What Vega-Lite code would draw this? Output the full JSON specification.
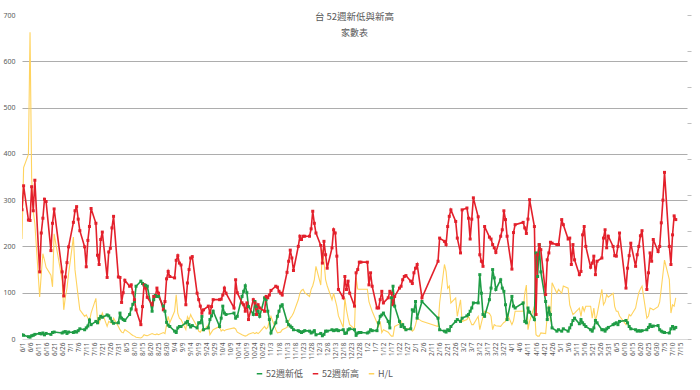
{
"$schema": "https://vega.github.io/schema/vega-lite/v6.json",
"width": 665, "height": 324,
"autosize": "none",
"padding": {"left": 22, "top": 15, "right": 13, "bottom": 51},
"background": "white",
"config": {"view": {"stroke": null}, "font": "Noto Sans CJK TC"},
"title": {"text": "台 52週新低與新高", "subtitle": "家數表", "anchor": "middle", "offset": -27, "fontSize": 9.5, "subtitleFontSize": 9, "font": "Noto Sans CJK TC", "subtitleFont": "Noto Sans CJK TC", "color": "#595959", "subtitleColor": "#595959", "fontWeight": "normal", "subtitlePadding": 8},
"data": {"values": [
{"d":"2023-06-01","lo":9,"hi":279,"hl":27.8},{"d":"2023-06-02","lo":8,"hi":331,"hl":47.6},{"d":"2023-06-05","lo":5,"hi":257,"hl":51.3},{"d":"2023-06-06","lo":4,"hi":256,"hl":85.2},{"d":"2023-06-07","lo":7,"hi":329,"hl":44.9},{"d":"2023-06-08","lo":8,"hi":277,"hl":35.6},{"d":"2023-06-09","lo":10,"hi":343,"hl":32.1},{"d":"2023-06-12","lo":12,"hi":145,"hl":11.7},{"d":"2023-06-13","lo":11,"hi":229,"hl":18.0},{"d":"2023-06-14","lo":13,"hi":261,"hl":23.7},{"d":"2023-06-15","lo":9,"hi":302,"hl":21.9},{"d":"2023-06-16","lo":12,"hi":297,"hl":19.9},{"d":"2023-06-19","lo":10,"hi":191,"hl":17.7},{"d":"2023-06-20","lo":14,"hi":250,"hl":14.5},{"d":"2023-06-21","lo":15,"hi":281,"hl":29.2},{"d":"2023-06-26","lo":13,"hi":145,"hl":16.3},{"d":"2023-06-27","lo":15,"hi":93,"hl":8.1},{"d":"2023-06-28","lo":16,"hi":134,"hl":11.7},{"d":"2023-06-29","lo":12,"hi":165,"hl":14.1},{"d":"2023-06-30","lo":15,"hi":199,"hl":18.1},
{"d":"2023-07-03","lo":14,"hi":252,"hl":28.3},{"d":"2023-07-04","lo":16,"hi":277,"hl":19.2},{"d":"2023-07-05","lo":15,"hi":286,"hl":15.4},{"d":"2023-07-06","lo":18,"hi":259,"hl":11.7},{"d":"2023-07-07","lo":22,"hi":234,"hl":8.1},{"d":"2023-07-10","lo":20,"hi":199,"hl":6.3},{"d":"2023-07-11","lo":24,"hi":156,"hl":6.7},{"d":"2023-07-12","lo":28,"hi":213,"hl":5.8},{"d":"2023-07-13","lo":41,"hi":243,"hl":4.9},{"d":"2023-07-14","lo":31,"hi":282,"hl":7.2},{"d":"2023-07-17","lo":38,"hi":250,"hl":11.3},{"d":"2023-07-18","lo":35,"hi":181,"hl":5.3},{"d":"2023-07-19","lo":44,"hi":161,"hl":4.4},{"d":"2023-07-20","lo":49,"hi":215,"hl":5.8},{"d":"2023-07-21","lo":47,"hi":231,"hl":7.2},{"d":"2023-07-24","lo":52,"hi":133,"hl":3.5},{"d":"2023-07-25","lo":50,"hi":188,"hl":4.9},{"d":"2023-07-26","lo":45,"hi":196,"hl":4.6},{"d":"2023-07-27","lo":38,"hi":240,"hl":4.4},{"d":"2023-07-28","lo":34,"hi":265,"hl":5.8},{"d":"2023-07-31","lo":35,"hi":134,"hl":3.5},
{"d":"2023-08-01","lo":56,"hi":133,"hl":2.6},{"d":"2023-08-02","lo":45,"hi":79,"hl":1.9},{"d":"2023-08-03","lo":42,"hi":100,"hl":1.7},{"d":"2023-08-04","lo":40,"hi":127,"hl":2.6},{"d":"2023-08-07","lo":53,"hi":114,"hl":1.7},{"d":"2023-08-08","lo":65,"hi":117,"hl":1.3},{"d":"2023-08-09","lo":75,"hi":100,"hl":1.0},{"d":"2023-08-10","lo":81,"hi":85,"hl":0.8},{"d":"2023-08-11","lo":114,"hi":63,"hl":0.5},{"d":"2023-08-14","lo":125,"hi":31,"hl":0.3},{"d":"2023-08-15","lo":120,"hi":70,"hl":0.6},{"d":"2023-08-16","lo":117,"hi":117,"hl":1.2},{"d":"2023-08-17","lo":116,"hi":110,"hl":1.0},{"d":"2023-08-18","lo":114,"hi":90,"hl":0.9},{"d":"2023-08-21","lo":60,"hi":74,"hl":1.5},{"d":"2023-08-22","lo":85,"hi":92,"hl":1.3},{"d":"2023-08-23","lo":94,"hi":92,"hl":1.2},{"d":"2023-08-24","lo":92,"hi":110,"hl":1.4},{"d":"2023-08-25","lo":92,"hi":99,"hl":1.2},{"d":"2023-08-28","lo":71,"hi":63,"hl":1.8},{"d":"2023-08-29","lo":60,"hi":81,"hl":1.5},{"d":"2023-08-30","lo":36,"hi":130,"hl":3.9},{"d":"2023-08-31","lo":30,"hi":146,"hl":6.3},
{"d":"2023-09-01","lo":27,"hi":135,"hl":4.5},{"d":"2023-09-04","lo":17,"hi":132,"hl":7.7},{"d":"2023-09-05","lo":14,"hi":170,"hl":12.3},{"d":"2023-09-06","lo":24,"hi":180,"hl":7.1},{"d":"2023-09-07","lo":27,"hi":164,"hl":5.8},{"d":"2023-09-08","lo":27,"hi":160,"hl":5.4},{"d":"2023-09-11","lo":35,"hi":74,"hl":2.6},{"d":"2023-09-12","lo":38,"hi":121,"hl":6.2},{"d":"2023-09-13","lo":31,"hi":150,"hl":5.4},{"d":"2023-09-14","lo":26,"hi":175,"hl":6.8},{"d":"2023-09-15","lo":29,"hi":178,"hl":5.8},{"d":"2023-09-18","lo":24,"hi":99,"hl":3.5},{"d":"2023-09-19","lo":35,"hi":85,"hl":2.2},{"d":"2023-09-20","lo":35,"hi":71,"hl":1.9},{"d":"2023-09-21","lo":49,"hi":56,"hl":2.6},{"d":"2023-09-22","lo":20,"hi":63,"hl":2.3},{"d":"2023-09-25","lo":24,"hi":71,"hl":4.0},{"d":"2023-09-26","lo":42,"hi":56,"hl":1.2},{"d":"2023-09-27","lo":50,"hi":70,"hl":1.9},{"d":"2023-09-28","lo":60,"hi":85,"hl":2.6},
{"d":"2023-10-02","lo":27,"hi":85,"hl":3.5},{"d":"2023-10-03","lo":45,"hi":86,"hl":2.2},{"d":"2023-10-04","lo":71,"hi":95,"hl":2.6},{"d":"2023-10-05","lo":56,"hi":110,"hl":2.3},{"d":"2023-10-06","lo":53,"hi":99,"hl":2.6},{"d":"2023-10-11","lo":56,"hi":67,"hl":3.1},{"d":"2023-10-12","lo":45,"hi":128,"hl":2.8},{"d":"2023-10-13","lo":49,"hi":100,"hl":1.9},{"d":"2023-10-16","lo":92,"hi":78,"hl":1.2},{"d":"2023-10-17","lo":103,"hi":74,"hl":1.0},{"d":"2023-10-18","lo":115,"hi":60,"hl":0.8},{"d":"2023-10-19","lo":100,"hi":78,"hl":1.0},{"d":"2023-10-20","lo":70,"hi":42,"hl":1.3},{"d":"2023-10-23","lo":53,"hi":85,"hl":1.8},{"d":"2023-10-24","lo":81,"hi":78,"hl":1.5},{"d":"2023-10-25","lo":71,"hi":53,"hl":1.8},{"d":"2023-10-26","lo":60,"hi":74,"hl":1.5},{"d":"2023-10-27","lo":49,"hi":67,"hl":1.9},{"d":"2023-10-30","lo":89,"hi":60,"hl":3.5},{"d":"2023-10-31","lo":85,"hi":92,"hl":2.8},
{"d":"2023-11-01","lo":60,"hi":89,"hl":3.2},{"d":"2023-11-02","lo":42,"hi":95,"hl":5.1},{"d":"2023-11-03","lo":13,"hi":105,"hl":6.3},{"d":"2023-11-06","lo":35,"hi":114,"hl":2.6},{"d":"2023-11-07","lo":49,"hi":112,"hl":1.7},{"d":"2023-11-08","lo":60,"hi":103,"hl":1.8},{"d":"2023-11-09","lo":71,"hi":99,"hl":1.9},{"d":"2023-11-10","lo":74,"hi":95,"hl":2.6},{"d":"2023-11-13","lo":38,"hi":144,"hl":3.2},{"d":"2023-11-14","lo":31,"hi":168,"hl":4.9},{"d":"2023-11-15","lo":28,"hi":192,"hl":5.8},{"d":"2023-11-16","lo":25,"hi":175,"hl":6.4},{"d":"2023-11-17","lo":20,"hi":148,"hl":7.2},{"d":"2023-11-20","lo":18,"hi":200,"hl":10.9},{"d":"2023-11-21","lo":16,"hi":222,"hl":12.7},{"d":"2023-11-22","lo":14,"hi":215,"hl":13.5},{"d":"2023-11-23","lo":16,"hi":222,"hl":13.8},{"d":"2023-11-24","lo":18,"hi":222,"hl":12.9},{"d":"2023-11-27","lo":17,"hi":222,"hl":11.8},{"d":"2023-11-28","lo":13,"hi":238,"hl":13.8},{"d":"2023-11-29","lo":15,"hi":276,"hl":14.8},{"d":"2023-11-30","lo":18,"hi":250,"hl":16.5},
{"d":"2023-12-01","lo":9,"hi":229,"hl":20.2},{"d":"2023-12-04","lo":12,"hi":202,"hl":15.0},{"d":"2023-12-05","lo":7,"hi":164,"hl":24.8},{"d":"2023-12-06","lo":10,"hi":211,"hl":21.6},{"d":"2023-12-07","lo":17,"hi":182,"hl":16.5},{"d":"2023-12-08","lo":17,"hi":153,"hl":14.8},{"d":"2023-12-11","lo":20,"hi":197,"hl":10.9},{"d":"2023-12-12","lo":18,"hi":236,"hl":12.7},{"d":"2023-12-13","lo":19,"hi":229,"hl":10.9},{"d":"2023-12-14","lo":20,"hi":179,"hl":9.1},{"d":"2023-12-15","lo":18,"hi":107,"hl":6.4},{"d":"2023-12-18","lo":20,"hi":89,"hl":3.2},{"d":"2023-12-19","lo":12,"hi":135,"hl":11.4},{"d":"2023-12-20","lo":13,"hi":107,"hl":8.1},{"d":"2023-12-21","lo":20,"hi":125,"hl":5.8},{"d":"2023-12-22","lo":22,"hi":99,"hl":4.0},{"d":"2023-12-25","lo":20,"hi":71,"hl":2.8},{"d":"2023-12-26","lo":8,"hi":143,"hl":17.0},{"d":"2023-12-27","lo":13,"hi":150,"hl":13.9},{"d":"2023-12-28","lo":14,"hi":166,"hl":13.8},{"d":"2023-12-29","lo":14,"hi":166,"hl":13.8},
{"d":"2024-01-02","lo":13,"hi":166,"hl":13.8},{"d":"2024-01-03","lo":15,"hi":117,"hl":10.4},{"d":"2024-01-04","lo":20,"hi":143,"hl":9.0},{"d":"2024-01-05","lo":18,"hi":114,"hl":7.7},{"d":"2024-01-08","lo":18,"hi":67,"hl":4.5},{"d":"2024-01-09","lo":35,"hi":67,"hl":3.5},{"d":"2024-01-10","lo":49,"hi":85,"hl":4.9},{"d":"2024-01-11","lo":52,"hi":103,"hl":1.8},{"d":"2024-01-12","lo":56,"hi":78,"hl":2.6},{"d":"2024-01-15","lo":38,"hi":89,"hl":1.9},{"d":"2024-01-16","lo":24,"hi":103,"hl":1.3},{"d":"2024-01-17","lo":89,"hi":99,"hl":0.8},{"d":"2024-01-18","lo":114,"hi":74,"hl":0.8},{"d":"2024-01-19","lo":71,"hi":92,"hl":3.5},{"d":"2024-01-22","lo":38,"hi":110,"hl":4.2},{"d":"2024-01-23","lo":27,"hi":114,"hl":4.9},{"d":"2024-01-24","lo":31,"hi":128,"hl":4.0},{"d":"2024-01-25","lo":25,"hi":135,"hl":2.6},{"d":"2024-01-26","lo":20,"hi":137,"hl":2.8},{"d":"2024-01-29","lo":22,"hi":125,"hl":2.8},{"d":"2024-01-30","lo":63,"hi":120,"hl":2.2},{"d":"2024-01-31","lo":60,"hi":143,"hl":2.6},
{"d":"2024-02-01","lo":81,"hi":153,"hl":3.9},{"d":"2024-02-02","lo":45,"hi":161,"hl":5.8},{"d":"2024-02-05","lo":81,"hi":89,"hl":4.9},{"d":"2024-02-15","lo":45,"hi":168,"hl":3.5},{"d":"2024-02-16","lo":20,"hi":218,"hl":10.0},{"d":"2024-02-19","lo":17,"hi":211,"hl":20.7},{"d":"2024-02-20","lo":15,"hi":204,"hl":18.8},{"d":"2024-02-21","lo":20,"hi":243,"hl":14.1},{"d":"2024-02-22","lo":18,"hi":265,"hl":14.7},{"d":"2024-02-23","lo":27,"hi":279,"hl":10.0},{"d":"2024-02-26","lo":38,"hi":254,"hl":11.4},{"d":"2024-02-27","lo":42,"hi":218,"hl":6.3},{"d":"2024-02-29","lo":38,"hi":186,"hl":10.9},
{"d":"2024-03-01","lo":45,"hi":279,"hl":4.9},{"d":"2024-03-04","lo":50,"hi":283,"hl":5.4},{"d":"2024-03-05","lo":53,"hi":261,"hl":6.3},{"d":"2024-03-06","lo":60,"hi":216,"hl":5.1},{"d":"2024-03-07","lo":67,"hi":259,"hl":4.0},{"d":"2024-03-08","lo":78,"hi":305,"hl":4.0},{"d":"2024-03-11","lo":78,"hi":264,"hl":6.3},{"d":"2024-03-12","lo":139,"hi":182,"hl":2.6},{"d":"2024-03-13","lo":99,"hi":168,"hl":4.5},{"d":"2024-03-14","lo":53,"hi":157,"hl":6.3},{"d":"2024-03-15","lo":49,"hi":243,"hl":7.7},{"d":"2024-03-18","lo":85,"hi":220,"hl":7.1},{"d":"2024-03-19","lo":110,"hi":216,"hl":6.3},{"d":"2024-03-20","lo":150,"hi":204,"hl":2.6},{"d":"2024-03-21","lo":132,"hi":197,"hl":4.0},{"d":"2024-03-22","lo":107,"hi":187,"hl":3.7},{"d":"2024-03-25","lo":128,"hi":222,"hl":3.5},{"d":"2024-03-26","lo":110,"hi":236,"hl":4.1},{"d":"2024-03-27","lo":103,"hi":277,"hl":4.6},{"d":"2024-03-28","lo":74,"hi":258,"hl":4.9},{"d":"2024-03-29","lo":42,"hi":222,"hl":7.1},
{"d":"2024-04-01","lo":92,"hi":151,"hl":4.0},{"d":"2024-04-02","lo":71,"hi":230,"hl":5.1},{"d":"2024-04-03","lo":67,"hi":247,"hl":7.7},{"d":"2024-04-08","lo":78,"hi":252,"hl":7.7},{"d":"2024-04-09","lo":38,"hi":240,"hl":12.7},{"d":"2024-04-10","lo":35,"hi":228,"hl":15.0},{"d":"2024-04-11","lo":67,"hi":259,"hl":2.6},{"d":"2024-04-12","lo":58,"hi":301,"hl":4.9},{"d":"2024-04-15","lo":42,"hi":243,"hl":9.1},{"d":"2024-04-16","lo":186,"hi":53,"hl":1.2},{"d":"2024-04-17","lo":135,"hi":182,"hl":0.8},{"d":"2024-04-18","lo":204,"hi":204,"hl":0.8},{"d":"2024-04-19","lo":145,"hi":193,"hl":1.7},{"d":"2024-04-22","lo":81,"hi":96,"hl":1.5},{"d":"2024-04-23","lo":42,"hi":171,"hl":6.3},{"d":"2024-04-24","lo":67,"hi":186,"hl":9.5},{"d":"2024-04-25","lo":53,"hi":209,"hl":4.9},{"d":"2024-04-26","lo":24,"hi":207,"hl":15.6},{"d":"2024-04-29","lo":17,"hi":204,"hl":12.7},{"d":"2024-04-30","lo":20,"hi":204,"hl":13.8},
{"d":"2024-05-02","lo":17,"hi":258,"hl":12.7},{"d":"2024-05-03","lo":22,"hi":247,"hl":14.7},{"d":"2024-05-06","lo":17,"hi":216,"hl":14.1},{"d":"2024-05-07","lo":24,"hi":218,"hl":9.5},{"d":"2024-05-08","lo":31,"hi":161,"hl":8.1},{"d":"2024-05-09","lo":40,"hi":204,"hl":6.8},{"d":"2024-05-10","lo":45,"hi":171,"hl":7.2},{"d":"2024-05-13","lo":33,"hi":139,"hl":8.6},{"d":"2024-05-14","lo":42,"hi":146,"hl":6.3},{"d":"2024-05-15","lo":35,"hi":225,"hl":9.1},{"d":"2024-05-16","lo":31,"hi":243,"hl":7.7},{"d":"2024-05-17","lo":27,"hi":200,"hl":9.1},{"d":"2024-05-20","lo":20,"hi":155,"hl":9.1},{"d":"2024-05-21","lo":17,"hi":164,"hl":5.8},{"d":"2024-05-22","lo":24,"hi":179,"hl":8.6},{"d":"2024-05-23","lo":40,"hi":139,"hl":5.1},{"d":"2024-05-24","lo":35,"hi":168,"hl":6.8},{"d":"2024-05-27","lo":20,"hi":175,"hl":13.8},{"d":"2024-05-28","lo":20,"hi":218,"hl":9.5},{"d":"2024-05-29","lo":17,"hi":236,"hl":10.3},{"d":"2024-05-30","lo":22,"hi":197,"hl":12.3},{"d":"2024-05-31","lo":25,"hi":222,"hl":11.6},
{"d":"2024-06-03","lo":31,"hi":200,"hl":12.7},{"d":"2024-06-04","lo":33,"hi":180,"hl":9.0},{"d":"2024-06-05","lo":35,"hi":179,"hl":7.7},{"d":"2024-06-06","lo":31,"hi":200,"hl":7.7},{"d":"2024-06-07","lo":38,"hi":229,"hl":6.4},{"d":"2024-06-11","lo":40,"hi":110,"hl":4.0},{"d":"2024-06-12","lo":35,"hi":153,"hl":5.1},{"d":"2024-06-13","lo":27,"hi":180,"hl":6.8},{"d":"2024-06-14","lo":22,"hi":207,"hl":6.4},{"d":"2024-06-17","lo":20,"hi":157,"hl":8.6},{"d":"2024-06-18","lo":17,"hi":182,"hl":10.9},{"d":"2024-06-19","lo":18,"hi":200,"hl":12.9},{"d":"2024-06-20","lo":17,"hi":223,"hl":13.9},{"d":"2024-06-21","lo":18,"hi":234,"hl":14.7},{"d":"2024-06-24","lo":20,"hi":107,"hl":5.8},{"d":"2024-06-25","lo":25,"hi":143,"hl":6.4},{"d":"2024-06-26","lo":31,"hi":186,"hl":8.6},{"d":"2024-06-27","lo":27,"hi":168,"hl":8.4},{"d":"2024-06-28","lo":28,"hi":215,"hl":8.1},
{"d":"2024-07-01","lo":29,"hi":189,"hl":9.0},{"d":"2024-07-02","lo":20,"hi":200,"hl":10.3},{"d":"2024-07-03","lo":17,"hi":251,"hl":14.1},{"d":"2024-07-04","lo":15,"hi":300,"hl":18.0},{"d":"2024-07-05","lo":14,"hi":360,"hl":21.9},{"d":"2024-07-08","lo":13,"hi":200,"hl":16.5},{"d":"2024-07-09","lo":22,"hi":161,"hl":7.2},{"d":"2024-07-10","lo":27,"hi":225,"hl":9.5},{"d":"2024-07-11","lo":22,"hi":266,"hl":9.1},{"d":"2024-07-12","lo":25,"hi":258,"hl":11.4}
]},
"encoding": {
  "x": {"field": "d", "type": "temporal",
    "scale": {"type": "utc", "domain": [{"year":2023,"month":6,"date":1,"utc":true},{"year":2024,"month":7,"date":19,"utc":true}]},
    "axis": {"title": null, "format": "%-m/%-d", "labelAngle": 270, "labelFontSize": 6.5, "labelColor": "#595959", "labelFont": "Noto Sans", "ticks": false, "grid": false, "domain": true, "domainColor": "#D9D9D9", "labelPadding": 3, "labelOverlap": false, "labelBound": false, "labelFlush": false,
      "values": [
        {"year":2023,"month":6,"date":1,"utc":true},{"year":2023,"month":6,"date":6,"utc":true},{"year":2023,"month":6,"date":11,"utc":true},{"year":2023,"month":6,"date":16,"utc":true},{"year":2023,"month":6,"date":21,"utc":true},{"year":2023,"month":6,"date":26,"utc":true},
        {"year":2023,"month":7,"date":1,"utc":true},{"year":2023,"month":7,"date":6,"utc":true},{"year":2023,"month":7,"date":11,"utc":true},{"year":2023,"month":7,"date":16,"utc":true},{"year":2023,"month":7,"date":21,"utc":true},{"year":2023,"month":7,"date":26,"utc":true},{"year":2023,"month":7,"date":31,"utc":true},
        {"year":2023,"month":8,"date":5,"utc":true},{"year":2023,"month":8,"date":10,"utc":true},{"year":2023,"month":8,"date":15,"utc":true},{"year":2023,"month":8,"date":20,"utc":true},{"year":2023,"month":8,"date":25,"utc":true},{"year":2023,"month":8,"date":30,"utc":true},
        {"year":2023,"month":9,"date":4,"utc":true},{"year":2023,"month":9,"date":9,"utc":true},{"year":2023,"month":9,"date":14,"utc":true},{"year":2023,"month":9,"date":19,"utc":true},{"year":2023,"month":9,"date":24,"utc":true},{"year":2023,"month":9,"date":29,"utc":true},
        {"year":2023,"month":10,"date":4,"utc":true},{"year":2023,"month":10,"date":9,"utc":true},{"year":2023,"month":10,"date":14,"utc":true},{"year":2023,"month":10,"date":19,"utc":true},{"year":2023,"month":10,"date":24,"utc":true},{"year":2023,"month":10,"date":29,"utc":true},
        {"year":2023,"month":11,"date":3,"utc":true},{"year":2023,"month":11,"date":8,"utc":true},{"year":2023,"month":11,"date":13,"utc":true},{"year":2023,"month":11,"date":18,"utc":true},{"year":2023,"month":11,"date":23,"utc":true},{"year":2023,"month":11,"date":28,"utc":true},
        {"year":2023,"month":12,"date":3,"utc":true},{"year":2023,"month":12,"date":8,"utc":true},{"year":2023,"month":12,"date":13,"utc":true},{"year":2023,"month":12,"date":18,"utc":true},{"year":2023,"month":12,"date":23,"utc":true},{"year":2023,"month":12,"date":28,"utc":true},
        {"year":2024,"month":1,"date":2,"utc":true},{"year":2024,"month":1,"date":7,"utc":true},{"year":2024,"month":1,"date":12,"utc":true},{"year":2024,"month":1,"date":17,"utc":true},{"year":2024,"month":1,"date":22,"utc":true},{"year":2024,"month":1,"date":27,"utc":true},
        {"year":2024,"month":2,"date":1,"utc":true},{"year":2024,"month":2,"date":6,"utc":true},{"year":2024,"month":2,"date":11,"utc":true},{"year":2024,"month":2,"date":16,"utc":true},{"year":2024,"month":2,"date":21,"utc":true},{"year":2024,"month":2,"date":26,"utc":true},
        {"year":2024,"month":3,"date":2,"utc":true},{"year":2024,"month":3,"date":7,"utc":true},{"year":2024,"month":3,"date":12,"utc":true},{"year":2024,"month":3,"date":17,"utc":true},{"year":2024,"month":3,"date":22,"utc":true},{"year":2024,"month":3,"date":27,"utc":true},
        {"year":2024,"month":4,"date":1,"utc":true},{"year":2024,"month":4,"date":6,"utc":true},{"year":2024,"month":4,"date":11,"utc":true},{"year":2024,"month":4,"date":16,"utc":true},{"year":2024,"month":4,"date":21,"utc":true},{"year":2024,"month":4,"date":26,"utc":true},
        {"year":2024,"month":5,"date":1,"utc":true},{"year":2024,"month":5,"date":6,"utc":true},{"year":2024,"month":5,"date":11,"utc":true},{"year":2024,"month":5,"date":16,"utc":true},{"year":2024,"month":5,"date":21,"utc":true},{"year":2024,"month":5,"date":26,"utc":true},{"year":2024,"month":5,"date":31,"utc":true},
        {"year":2024,"month":6,"date":5,"utc":true},{"year":2024,"month":6,"date":10,"utc":true},{"year":2024,"month":6,"date":15,"utc":true},{"year":2024,"month":6,"date":20,"utc":true},{"year":2024,"month":6,"date":25,"utc":true},{"year":2024,"month":6,"date":30,"utc":true},
        {"year":2024,"month":7,"date":5,"utc":true},{"year":2024,"month":7,"date":10,"utc":true},{"year":2024,"month":7,"date":15,"utc":true}
      ]}}
},
"layer": [
  {"mark": {"type": "line", "strokeWidth": 1.1, "clip": true},
   "encoding": {
     "y": {"field": "hl", "type": "quantitative", "scale": {"domain": [0, 90]},
       "axis": {"orient": "right", "title": null, "values": [0,10,20,30,40,50,60,70,80,90], "labels": false, "grid": false, "domain": false, "ticks": true, "tickSize": 4, "tickColor": "#BFBFBF"}},
     "color": {"datum": "hl"}
   }},
  {"transform": [{"fold": ["lo", "hi"], "as": ["k", "v"]}],
   "mark": {"type": "line", "strokeWidth": 1.6, "clip": true, "point": {"shape": "square", "size": 9, "filled": true}},
   "encoding": {
     "y": {"field": "v", "type": "quantitative", "scale": {"domain": [0, 700]},
       "axis": {"title": null, "values": [0,100,200,300,400,500,600,700], "labelFontSize": 7, "labelColor": "#595959", "labelFont": "Noto Sans", "labelPadding": 7, "ticks": false, "domain": false, "grid": true, "gridColor": "#ADADAD", "gridWidth": 1,
         "gridOpacity": {"condition": {"test": "datum.value == 0 || datum.value == 700", "value": 0}, "value": 1}}},
     "color": {"field": "k", "type": "nominal",
       "scale": {"domain": ["lo", "hi", "hl"], "range": ["#1E9C45", "#E3202B", "#FFD35E"]},
       "legend": {"title": null, "orient": "none", "legendX": 233, "legendY": 354, "direction": "horizontal", "symbolType": "stroke", "symbolSize": 30, "symbolStrokeWidth": 1.5, "labelFontSize": 9, "labelColor": "#595959", "labelFont": "Noto Sans CJK TC", "columnPadding": 6, "labelOffset": 2,
         "labelExpr": "datum.label == 'lo' ? '52週新低' : (datum.label == 'hi' ? '52週新高' : 'H/L')"}}
   }}
],
"resolve": {"scale": {"y": "independent"}}
}
